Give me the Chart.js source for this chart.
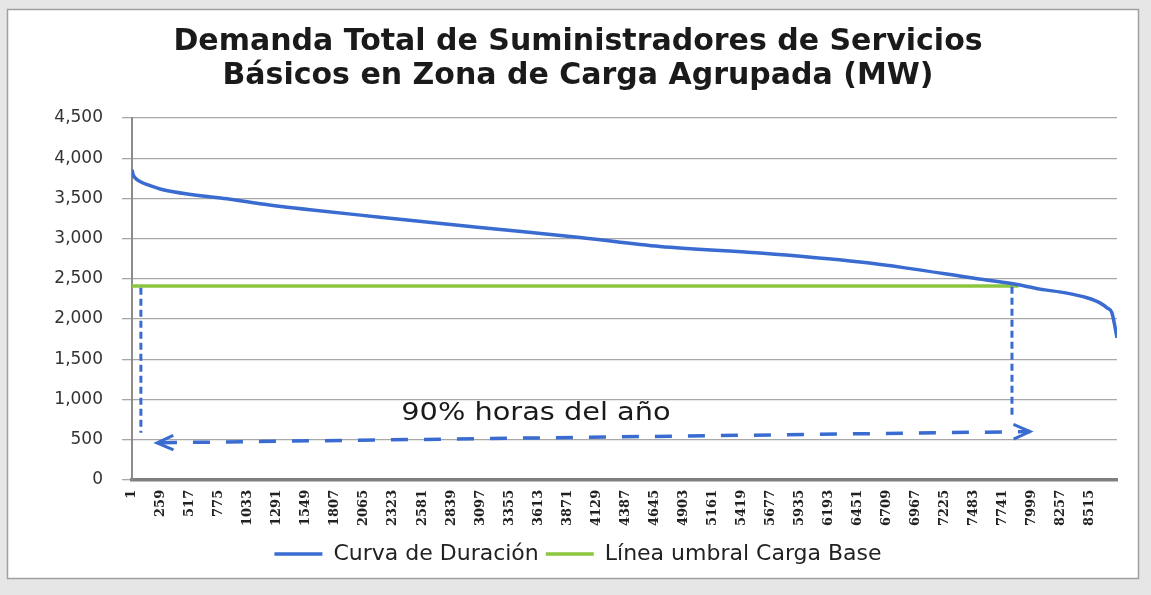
<!DOCTYPE html>
<html><head><meta charset="utf-8">
<script src="https://cdn.jsdelivr.net/npm/chart.js@4.4.1/dist/chart.umd.min.js"></script>
<style>html,body{margin:0;padding:0;background:#e6e6e6;}canvas{display:block;}</style>
</head><body>
<canvas id="c" width="1151" height="595"></canvas>
<script>
// ---- data ----
const titleLines = ['Demanda Total de Suministradores de Servicios', 'Básicos en Zona de Carga Agrupada (MW)'];
const seriesNames = ['Curva de Duración', 'Línea umbral Carga Base'];
const xTickLabels = [1,259,517,775,1033,1291,1549,1807,2065,2323,2581,2839,3097,3355,3613,3871,4129,4387,4645,4903,5161,5419,5677,5935,6193,6451,6709,6967,7225,7483,7741,7999,8257,8515];
const yTickValues = [0,500,1000,1500,2000,2500,3000,3500,4000,4500];
const curveHours = [1, 10, 28, 72, 150, 277, 543, 846, 1139, 1584, 2206, 3095, 3985, 4696, 5585, 6475, 6892, 7479, 7835, 8075, 8315, 8493, 8608, 8671, 8715, 8742, 8760];
const curveMW    = [3856, 3800, 3756, 3711, 3665, 3607, 3545, 3495, 3433, 3358, 3267, 3138, 3014, 2902, 2820, 2708, 2633, 2509, 2438, 2372, 2322, 2264, 2201, 2139, 2077, 1903, 1766];
const baseHours = [1, 7884];
const baseMW = [2410, 2410];
// annotation: vertical dashed guides, span arrow and its label
const guideHours = [80, 7826];
const guideTopMW = [2390, 2400];
const guideBottomMW = [585, 783];
const spanArrowHours = [223, 7986];
const spanArrowMW = [460, 600];
const spanLabel = '90% horas del año';
const spanLabelHour = 3593;
const spanLabelMW = 821;

const BLUE = '#3a6bd0';
const GREEN = '#8cc63f';

const framePlugin = {
  id: 'frame',
  beforeDraw(chart) {
    const c = chart.ctx;
    c.save();
    c.fillStyle = '#e6e6e6';
    c.fillRect(0, 0, chart.width, chart.height);
    c.fillStyle = '#ffffff';
    c.fillRect(7, 10, 1132, 569);
    c.strokeStyle = '#a0a0a0';
    c.lineWidth = 1.5;
    c.strokeRect(7.5, 9.5, 1131, 569);
    c.restore();
  }
};

const annotPlugin = {
  id: 'annot',
  afterDatasetsDraw(chart) {
    const c = chart.ctx, xs = chart.scales.x, ys = chart.scales.y;
    c.save();
    c.strokeStyle = BLUE;
    c.lineWidth = 3;
    c.setLineDash([7, 4]);
    for (let i = 0; i < guideHours.length; i++) {
      const x = xs.getPixelForValue(guideHours[i]);
      c.beginPath();
      c.moveTo(x, ys.getPixelForValue(guideTopMW[i]));
      c.lineTo(x, ys.getPixelForValue(guideBottomMW[i]));
      c.stroke();
    }
    const x0 = xs.getPixelForValue(spanArrowHours[0]), y0 = ys.getPixelForValue(spanArrowMW[0]);
    const x1 = xs.getPixelForValue(spanArrowHours[1]), y1 = ys.getPixelForValue(spanArrowMW[1]);
    c.lineWidth = 3.5;
    c.setLineDash([17, 16]);
    c.lineDashOffset = -36;
    c.beginPath();
    c.moveTo(x0, y0);
    c.lineTo(x1, y1);
    c.stroke();
    c.setLineDash([]);
    c.lineWidth = 3;
    const ang = Math.atan2(y1 - y0, x1 - x0);
    const head = (x, y, a) => {
      const L = 18, w = 0.42;
      c.beginPath();
      c.moveTo(x + L * Math.cos(a + w), y + L * Math.sin(a + w));
      c.lineTo(x, y);
      c.lineTo(x + L * Math.cos(a - w), y + L * Math.sin(a - w));
      c.stroke();
    };
    head(x0, y0, ang);
    head(x1, y1, ang + Math.PI);
    c.fillStyle = '#1a1a1a';
    c.font = '24px "DejaVu Sans"';
    c.textAlign = 'center';
    c.textBaseline = 'middle';
    c.translate(xs.getPixelForValue(spanLabelHour), ys.getPixelForValue(spanLabelMW));
    c.scale(1.2, 1);
    c.fillText(spanLabel, 0, 0);
    c.restore();
  }
};

new Chart(document.getElementById('c'), {
  type: 'line',
  data: {
    datasets: [
      { label: seriesNames[0], data: curveHours.map((h, i) => ({ x: h, y: curveMW[i] })),
        borderColor: BLUE, backgroundColor: BLUE, borderWidth: 3.5, pointRadius: 0,
        cubicInterpolationMode: 'monotone' },
      { label: seriesNames[1], data: baseHours.map((h, i) => ({ x: h, y: baseMW[i] })),
        borderColor: GREEN, backgroundColor: GREEN, borderWidth: 3.5, pointRadius: 0 }
    ]
  },
  options: {
    responsive: false, animation: false, devicePixelRatio: 1, locale: 'en-US',
    layout: { padding: { left: 39, right: 34, top: 0, bottom: 20 } },
    plugins: {
      title: { display: true, text: titleLines, color: '#1a1a1a',
        font: { family: 'DejaVu Sans', size: 30, weight: 'bold', lineHeight: 34 / 30 },
        padding: { top: 25, bottom: 25 } },
      legend: { position: 'bottom',
        labels: { font: { family: 'DejaVu Sans', size: 22 }, color: '#222', boxWidth: 48, boxHeight: 0, padding: 7 } },
      tooltip: { enabled: false }
    },
    scales: {
      x: { type: 'linear', min: 1, max: 8760,
        afterBuildTicks: s => { s.ticks = xTickLabels.map(v => ({ value: v })); },
        ticks: { autoSkip: false, minRotation: 90, maxRotation: 90, padding: 10,
          font: { family: 'DejaVu Serif', size: 13, weight: 'bold' }, color: '#222',
          callback: v => String(v) },
        grid: { display: true, color: 'rgba(0,0,0,0)', drawTicks: false },
        border: { display: true, color: '#7f7f7f', width: 3.5 } },
      y: { min: 0, max: 4500,
        afterBuildTicks: s => { s.ticks = yTickValues.map(v => ({ value: v })); },
        afterFit: s => { s.width = 93; },
        ticks: { padding: 19, font: { family: 'DejaVu Sans', size: 17 }, color: '#333',
          callback: v => v.toLocaleString('en-US') },
        grid: { color: '#a8a8a8', lineWidth: 1.3, tickLength: 10 },
        border: { color: '#8c8c8c', width: 2 } }
    }
  },
  plugins: [framePlugin, annotPlugin]
});
</script>
</body></html>
